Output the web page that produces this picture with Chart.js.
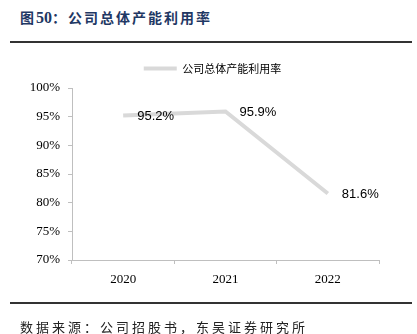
<!DOCTYPE html>
<html>
<head>
<meta charset="utf-8">
<script src="https://cdn.jsdelivr.net/npm/chart.js@4"></script>
<style>
    html, body { margin: 0; padding: 0; background: #fff; }
    #wrap { position: relative; width: 417px; height: 334px; overflow: hidden; }
    #myChart { position: absolute; left: 0; top: 0; }
    .title {
        position: absolute; left: 20px; top: 7px;
        font: bold 14px "Noto Sans CJK SC", "Liberation Serif", serif;
        color: #1f3864; letter-spacing: 2px; white-space: nowrap;
    }
    .title b { font-family: "Liberation Serif", serif; font-size: 16px; letter-spacing: 0; }
    .rule { position: absolute; left: 10px; width: 402px; height: 2px; background: #333; }
    .source {
        position: absolute; left: 20px; top: 317px;
        font: 13px "Noto Sans CJK SC", sans-serif; color: #222;
        letter-spacing: 3px; white-space: nowrap;
    }
</style>
</head>
<body>
<div id="wrap">
    <div class="title">图<b>50</b>：公司总体产能利用率</div>
    <div class="rule" style="top:41px"></div>
    <canvas id="myChart" width="417" height="334"></canvas>
    <div class="rule" style="top:302px"></div>
    <div class="source">数据来源：公司招股书，东吴证券研究所</div>
</div>
<script>
const YEARS = ['2020', '2021', '2022'];
const UTILIZATION = [95.2, 95.9, 81.6];
const SERIES_NAME = '公司总体产能利用率';

const LINE_COLOR = '#d9d9d9';
const AXIS_COLOR = '#bfbfbf';

// labels to the right of each point, like the original
const pointLabels = {
    id: 'pointLabels',
    afterDatasetsDraw(chart) {
        const ctx = chart.ctx;
        const meta = chart.getDatasetMeta(0);
        ctx.save();
        ctx.font = '13px "Liberation Sans", Arial, sans-serif';
        ctx.fillStyle = '#000';
        ctx.textAlign = 'left';
        ctx.textBaseline = 'middle';
        meta.data.forEach(function (pt, i) {
            ctx.fillText(UTILIZATION[i].toFixed(1) + '%', pt.x + 14, pt.y + 1);
        });
        ctx.restore();
    }
};

// the original legend sits a bit right of the canvas middle and a little higher
const shiftLegend = {
    id: 'shiftLegend',
    afterLayout(chart) {
        var lg = chart.legend;
        if (lg) {
            lg.left = 46;
            lg.top -= 4;
            lg.bottom -= 4;
        }
    }
};

const serifTicks = { family: '"Liberation Serif", "Times New Roman", serif', size: 13 };

var ctx = document.getElementById('myChart');
var myChart = new Chart(ctx, {
    type: 'line',
    data: {
        labels: YEARS,
        datasets: [{
            label: SERIES_NAME,
            data: UTILIZATION,
            borderColor: LINE_COLOR,
            backgroundColor: LINE_COLOR,
            borderWidth: 4,
            pointRadius: 0,
            pointHoverRadius: 0,
            tension: 0
        }]
    },
    options: {
        responsive: false,
        animation: false,
        layout: { padding: { top: 63, left: 0, right: 38, bottom: 44 } },
        plugins: {
            tooltip: { enabled: false },
            legend: {
                position: 'top',
                labels: {
                    color: '#333',
                    font: { family: '"Noto Sans CJK SC", sans-serif', size: 11 },
                    boxWidth: 33,
                    boxHeight: 4,
                    padding: 4,
                    generateLabels: function (chart) {
                        return [{
                            text: SERIES_NAME,
                            fillStyle: LINE_COLOR,
                            strokeStyle: LINE_COLOR,
                            lineWidth: 0,
                            datasetIndex: 0
                        }];
                    }
                }
            }
        },
        scales: {
            x: {
                offset: true,
                border: { color: AXIS_COLOR, width: 1 },
                grid: { offset: true, drawOnChartArea: false, drawTicks: true, tickLength: 4, color: AXIS_COLOR },
                ticks: { color: '#000', font: serifTicks, padding: 8, maxRotation: 0 },
                afterFit: function (scale) { scale.height = 30; }
            },
            y: {
                min: 70,
                max: 100,
                border: { color: AXIS_COLOR, width: 1 },
                grid: { drawOnChartArea: false, drawTicks: true, tickLength: 4, color: AXIS_COLOR },
                ticks: {
                    stepSize: 5,
                    color: '#000',
                    font: serifTicks,
                    padding: 8,
                    callback: function (v) { return v + '%'; }
                },
                afterFit: function (scale) { scale.width = 72; }
            }
        }
    },
    plugins: [pointLabels, shiftLegend]
});
</script>
</body>
</html>
